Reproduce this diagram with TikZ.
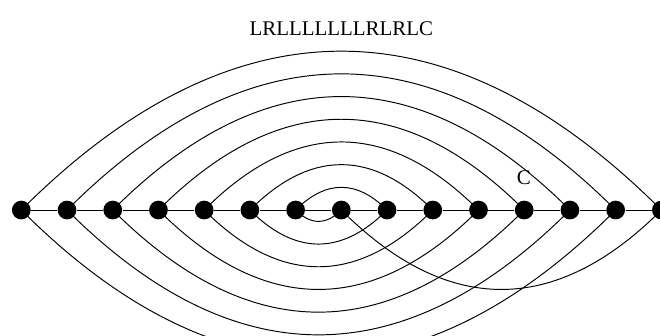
\documentclass[tikz,border=0pt]{standalone}
\usepackage{fontspec}
\setmainfont{Liberation Serif}
\begin{document}
\begin{tikzpicture}[line width=0.6pt,
        dot/.style={circle, fill=black, inner sep=0pt, minimum size=4.1mm},
        arcabove/.style={out=45, in=135, looseness=1.2},
        arcbelow/.style={out=-45, in=-135, looseness=1.2},
        lbl/.style={font=\fontsize{13}{15}\selectfont}]
    \clip (-0.466,-2.735) rectangle (13.97,4.594);

    % points on the line
    \foreach \i in {0,...,14}
        \node[dot] (n\i) at (\i,0) {};
    \foreach \i in {0,...,13} {
        \pgfmathtruncatemacro{\j}{\i+1}
        \draw (n\i) -- (n\j);
    }

    % arcs above the line
    \foreach \i in {0,...,6} {
        \pgfmathtruncatemacro{\j}{14-\i}
        \draw (n\i.center) to[arcabove] (n\j.center);
    }

    % arcs below the line
    \foreach \i in {0,...,5} {
        \pgfmathtruncatemacro{\j}{13-\i}
        \draw (n\i.center) to[arcbelow] (n\j.center);
    }
    \draw (n6.center) to[arcbelow] (n7.center);
    \draw (n7.center) to[arcbelow] (n14.center);

    \node[lbl] (title) at (7,3.96) {LRLLLLLLLRLRLC};
    \node[lbl] (lblC) at (10.99,0.71) {C};
\end{tikzpicture}
\end{document}
